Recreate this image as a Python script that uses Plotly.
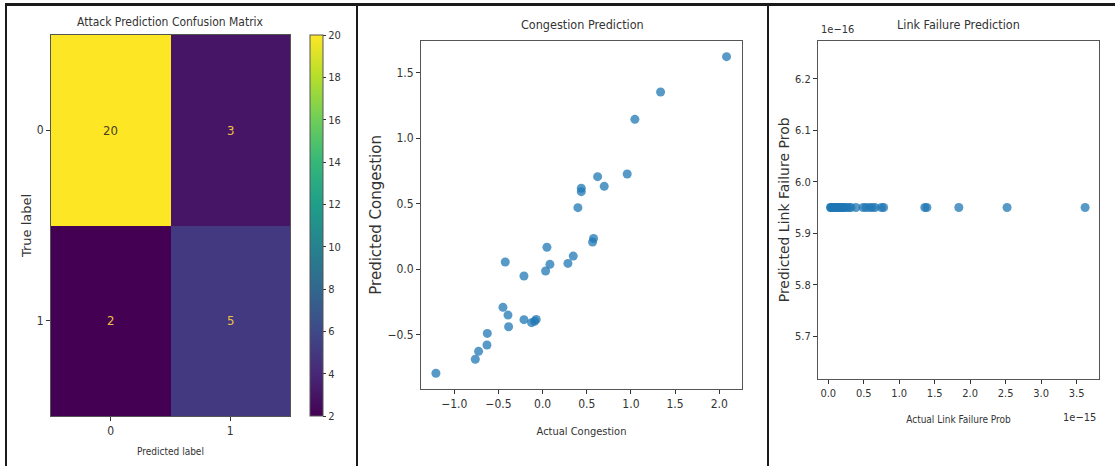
import plotly.graph_objects as go

W, H = 1115, 466

# ---------------- data ----------------
cm_labels = [0, 1]
cm_values = [[20, 3],
             [2, 5]]
cbar_ticks = [2, 4, 6, 8, 10, 12, 14, 16, 18, 20]

cong_actual = [2.083, 1.336, 1.045, 0.958, 0.623, 0.698, 0.438, 0.438, 0.400, 0.577,
               0.566, 0.347, 0.287, 0.049, 0.083, 0.034, -0.211, -0.423, -0.449, -0.392,
               -0.385, -0.211, -0.125, -0.072, -0.090, -0.626, -0.630, -0.725, -0.762, -1.208]
cong_pred = [1.623, 1.353, 1.144, 0.726, 0.706, 0.632, 0.617, 0.591, 0.469, 0.234,
             0.206, 0.099, 0.043, 0.166, 0.036, -0.015, -0.053, 0.054, -0.293, -0.352,
             -0.441, -0.387, -0.410, -0.385, -0.400, -0.492, -0.581, -0.629, -0.690, -0.797]
cong_xticks = [-1.0, -0.5, 0.0, 0.5, 1.0, 1.5, 2.0]
cong_yticks = [-0.5, 0.0, 0.5, 1.0, 1.5]

link_actual = [0.03e-15, 0.04e-15, 0.05e-15, 0.06e-15, 0.08e-15, 0.09e-15, 0.11e-15, 0.12e-15,
               0.14e-15, 0.16e-15, 0.18e-15, 0.20e-15, 0.21e-15, 0.23e-15, 0.26e-15, 0.29e-15,
               0.32e-15, 0.39e-15, 0.49e-15, 0.53e-15, 0.58e-15, 0.62e-15, 0.66e-15, 0.75e-15,
               0.78e-15, 1.36e-15, 1.39e-15, 1.84e-15, 2.52e-15, 3.62e-15]
link_pred = [5.95e-16, 5.95e-16, 5.95e-16, 5.95e-16, 5.95e-16, 5.95e-16, 5.95e-16, 5.95e-16,
             5.95e-16, 5.95e-16, 5.95e-16, 5.95e-16, 5.95e-16, 5.95e-16, 5.95e-16, 5.95e-16,
             5.95e-16, 5.95e-16, 5.95e-16, 5.95e-16, 5.95e-16, 5.95e-16, 5.95e-16, 5.95e-16,
             5.95e-16, 5.95e-16, 5.95e-16, 5.95e-16, 5.95e-16, 5.95e-16]
link_xticks = [0.0, 0.5, 1.0, 1.5, 2.0, 2.5, 3.0, 3.5]   # x 1e-15
link_yticks = [5.7, 5.8, 5.9, 6.0, 6.1, 6.2]              # x 1e-16

# ---------------- helpers ----------------
def px(x):
    return x / W

def py(y):
    return 1 - y / H

FONT = "DejaVu Sans Condensed, Liberation Sans Narrow, Liberation Sans, sans-serif"
FONT_WIDE = "DejaVu Sans, Liberation Sans, sans-serif"
TXT = "#333333"
SPINE = "#555555"
BLUE = "rgba(31,119,180,0.75)"

fig = go.Figure()

# ---- panel 1: confusion matrix ----
fig.add_trace(go.Heatmap(
    z=cm_values, x=cm_labels, y=cm_labels,
    colorscale="Viridis", zmin=2, zmax=20,
    xaxis="x", yaxis="y",
    hoverinfo="z",
    colorbar=dict(
        x=px(310), xanchor="left", y=py(225.5), yanchor="middle",
        len=381 / H, lenmode="fraction", thickness=13, thicknessmode="pixels",
        tickvals=cbar_ticks, ticks="outside", ticklen=3, tickcolor=TXT,
        tickfont=dict(family=FONT, size=11, color=TXT),
        outlinecolor=SPINE, outlinewidth=1, xpad=0, ypad=0,
    ),
))
for i, row in enumerate(cm_values):
    for j, v in enumerate(row):
        fig.add_annotation(
            x=cm_labels[j], y=cm_labels[i], xref="x", yref="y", text=str(v),
            showarrow=False,
            font=dict(family=FONT, size=13, color="#4a4020" if v > 11 else "#f0c040"),
        )

# ---- panel 2: congestion ----
fig.add_trace(go.Scatter(
    x=cong_actual, y=cong_pred, mode="markers", xaxis="x2", yaxis="y2",
    marker=dict(size=9, color=BLUE, line=dict(width=0)), showlegend=False,
))

# ---- panel 3: link failure ----
fig.add_trace(go.Scatter(
    x=link_actual, y=link_pred, mode="markers", xaxis="x3", yaxis="y3",
    marker=dict(size=9, color=BLUE, line=dict(width=0)), showlegend=False,
))

axis_common = dict(
    showline=True, linecolor=SPINE, linewidth=1, mirror=True,
    ticks="outside", ticklen=4, tickcolor=TXT, showgrid=False, zeroline=False,
    tickfont=dict(family=FONT, size=12, color=TXT),
)

fig.update_layout(
    width=W, height=H,
    margin=dict(l=0, r=0, t=0, b=0),
    paper_bgcolor="white", plot_bgcolor="white",
    showlegend=False,
    font=dict(family=FONT, color=TXT),
    xaxis=dict(axis_common, domain=[px(51), px(290)], anchor="y",
               range=[-0.5, 1.5], tickvals=cm_labels, ticktext=[str(c) for c in cm_labels],
               title=dict(text="Predicted label", font=dict(family=FONT, size=10, color=TXT), standoff=10)),
    yaxis=dict(axis_common, domain=[py(416), py(35)], anchor="x",
               range=[1.5, -0.5], tickvals=cm_labels, ticktext=[str(c) for c in cm_labels],
               title=dict(text="True label", font=dict(family=FONT_WIDE, size=13, color=TXT), standoff=2)),
    xaxis2=dict(axis_common, domain=[px(421), px(742)], anchor="y2",
                range=[-1.377, 2.258], tickvals=cong_xticks, tickformat=".1f",
                tickfont=dict(family=FONT, size=12, color=TXT),
                title=dict(text="Actual Congestion", font=dict(family=FONT, size=11, color=TXT), standoff=16)),
    yaxis2=dict(axis_common, domain=[py(389), py(40.7)], anchor="x2",
                range=[-0.917, 1.745], tickvals=cong_yticks, tickformat=".1f",
                title=dict(text="Predicted Congestion", font=dict(family=FONT_WIDE, size=15, color=TXT), standoff=2)),
    xaxis3=dict(axis_common, domain=[px(818), px(1099)], anchor="y3",
                range=[-0.145e-15, 3.816e-15],
                tickvals=[t * 1e-15 for t in link_xticks], ticktext=[f"{t:.1f}" for t in link_xticks],
                tickfont=dict(family=FONT, size=11, color=TXT),
                title=dict(text="Actual Link Failure Prob", font=dict(family=FONT, size=10, color=TXT), standoff=16)),
    yaxis3=dict(axis_common, domain=[py(379), py(40.7)], anchor="x3",
                range=[5.617e-16, 6.274e-16],
                tickvals=[t * 1e-16 for t in link_yticks], ticktext=[f"{t:.1f}" for t in link_yticks],
                tickfont=dict(family=FONT, size=11, color=TXT),
                title=dict(text="Predicted Link Failure Prob", font=dict(family=FONT_WIDE, size=14, color=TXT), standoff=2)),
)

# subplot titles and offset texts
titles = [
    ("Attack Prediction Confusion Matrix", 170, 22, 12),
    ("Congestion Prediction", 582, 25, 12.5),
    ("Link Failure Prediction", 958, 24, 12.5),
]
for t, x, y, s in titles:
    fig.add_annotation(text=t, x=px(x), y=py(y), xref="paper", yref="paper",
                       showarrow=False, xanchor="center", yanchor="middle",
                       font=dict(family=FONT, size=s, color=TXT))

fig.add_annotation(text="1e\u221216", x=px(819), y=py(30), xref="paper", yref="paper",
                   showarrow=False, xanchor="left", yanchor="middle",
                   font=dict(family=FONT, size=11, color=TXT))
fig.add_annotation(text="1e\u221215", x=px(1098), y=py(417), xref="paper", yref="paper",
                   showarrow=False, xanchor="right", yanchor="middle",
                   font=dict(family=FONT, size=11, color=TXT))

# panel frame lines
frame = dict(color="#1a1a1a", width=2)
fig.add_shape(type="line", xref="paper", yref="paper", x0=px(5), x1=1, y0=py(4.5), y1=py(4.5), line=dict(color="#1a1a1a", width=3))
for xv in [6, 357, 768]:
    fig.add_shape(type="line", xref="paper", yref="paper", x0=px(xv), x1=px(xv), y0=0, y1=py(4.5), line=frame)

fig.write_html("out.html", config={"displayModeBar": False},
               post_script="document.body.style.margin='0';document.body.style.overflow='hidden';")
